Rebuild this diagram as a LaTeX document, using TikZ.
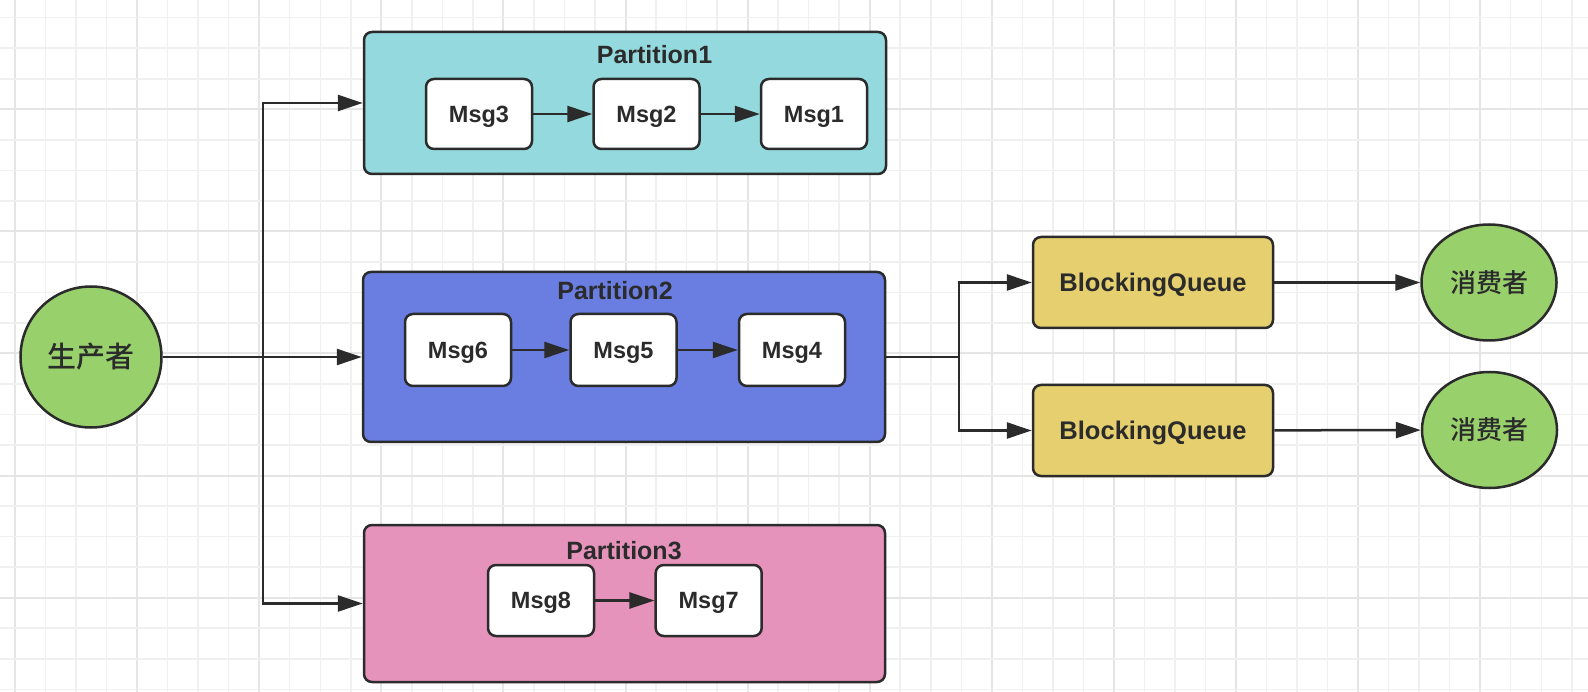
\documentclass[tikz,border=0pt]{standalone}
\usepackage{fontspec}
\setmainfont{Liberation Sans}
\newfontfamily\cjk{Noto Sans CJK SC Medium}
\usetikzlibrary{arrows.meta,shapes.geometric}
\definecolor{ink}{HTML}{2B2B2B}
\definecolor{gridminor}{HTML}{F0F0F0}
\definecolor{gridmajor}{HTML}{E5E5E5}
\definecolor{tealfill}{HTML}{94D9DD}
\definecolor{bluefill}{HTML}{6A7DE0}
\definecolor{pinkfill}{HTML}{E593BB}
\definecolor{yellowfill}{HTML}{E5CF6F}
\definecolor{greenfill}{HTML}{98D06C}
\tikzset{
  minorline/.style={draw=gridminor, line width=1.5pt},
  majorline/.style={draw=gridmajor, line width=2pt},
  partbox/.style={draw=ink, line width=2.5pt, rounded corners=8pt, inner sep=0pt},
  msgbox/.style={draw=ink, line width=2.5pt, rounded corners=8pt, fill=white, inner sep=0pt,
    minimum width=106pt, minimum height=71pt, text=ink, text depth=0pt,
    font=\fontsize{23.5}{27}\selectfont\bfseries},
  qbox/.style={draw=ink, line width=2.5pt, rounded corners=8pt, fill=yellowfill, inner sep=0pt,
    minimum width=240pt, minimum height=91pt, text=ink, text depth=0pt,
    font=\fontsize{25.5}{30}\selectfont\bfseries},
  titletext/.style={anchor=base, inner sep=0pt, text=ink, font=\fontsize{25}{30}\selectfont\bfseries},
  person/.style={draw=ink, line width=2.5pt, fill=greenfill, ellipse, inner sep=0pt, text=ink},
  conn/.style={draw=ink, line width=2.5pt},
  arr/.style={conn, -{Triangle[length=25pt, width=16pt]}},
}
\begin{document}
\begin{tikzpicture}[x=1pt, y=-1pt]
\useasboundingbox (0,0) rectangle (1588,692);
\fill[white] (0,0) rectangle (1588,692);
% grid
\foreach \i in {0,...,52} {
  \pgfmathsetmacro{\xx}{15+30.525*\i}
  \pgfmathtruncatemacro{\m}{mod(\i,4)}
  \ifnum\m=0 \draw[majorline] (\xx,0) -- (\xx,692); \else \draw[minorline] (\xx,0) -- (\xx,692); \fi
}
\foreach \j in {1,...,23} {
  \pgfmathsetmacro{\yy}{-12.8+30.525*\j}
  \pgfmathtruncatemacro{\m}{mod(\j,4)}
  \ifnum\m=0 \draw[majorline] (0,\yy) -- (1588,\yy); \else \draw[minorline] (0,\yy) -- (1588,\yy); \fi
}
% producer
\node[person, circle, minimum size=141pt, font=\cjk\fontsize{29}{34}\selectfont] (prod) at (91,357) {生产者};
% partitions
\node[partbox, fill=tealfill, minimum width=522pt, minimum height=142pt] (p1) at (625,103) {};
\node[partbox, fill=bluefill, minimum width=522pt, minimum height=170pt] (p2) at (624,357) {};
\node[partbox, fill=pinkfill, minimum width=521pt, minimum height=157pt] (p3) at (624.5,603.5) {};
\node[titletext] (t1) at (654.5,64) {Partition1};
\node[titletext] (t2) at (615,300) {Partition2};
\node[titletext] (t3) at (624,559) {Partition3};
% messages
\node[msgbox, minimum height=70pt] (m3) at (479,114) {Msg3};
\node[msgbox, minimum height=70pt] (m2) at (646.5,114) {Msg2};
\node[msgbox, minimum height=70pt] (m1) at (814,114) {Msg1};
\node[msgbox, minimum height=72pt] (m6) at (458,350) {Msg6};
\node[msgbox, minimum height=72pt] (m5) at (623.5,350) {Msg5};
\node[msgbox, minimum height=72pt] (m4) at (792,350) {Msg4};
\node[msgbox] (m8) at (541,600.5) {Msg8};
\node[msgbox] (m7) at (708.7,600.5) {Msg7};
\draw[arr] (m3) -- (m2);
\draw[arr] (m2) -- (m1);
\draw[arr] (m6) -- (m5);
\draw[arr] (m5) -- (m4);
\draw[arr] (m8) -- (m7);
% queues and consumers
\node[qbox] (q1) at (1153,282.5) {BlockingQueue};
\node[qbox] (q2) at (1153,430.5) {BlockingQueue};
\node[person, minimum width=135pt, minimum height=116pt, font=\cjk\fontsize{26}{30}\selectfont] (c1) at (1489,282.5) {消费者};
\node[person, minimum width=135pt, minimum height=116pt, font=\cjk\fontsize{26}{30}\selectfont] (c2) at (1489.5,430) {消费者};
% producer connectors
\coordinate (trunk) at (263,357);
\draw[arr] (prod) -- (p2.west);
\draw[arr] (trunk) |- (p1.west);
\draw[arr] (trunk) |- (p3.west);
% partition2 to queues
\coordinate (fork) at (959,357);
\draw[conn] (p2.east) -- (fork);
\draw[arr] (fork) |- (q1.west);
\draw[arr] (fork) |- (q2.west);
\draw[arr] (q1) -- (c1);
\draw[arr] (q2) -- (c2);
\end{tikzpicture}
\end{document}
